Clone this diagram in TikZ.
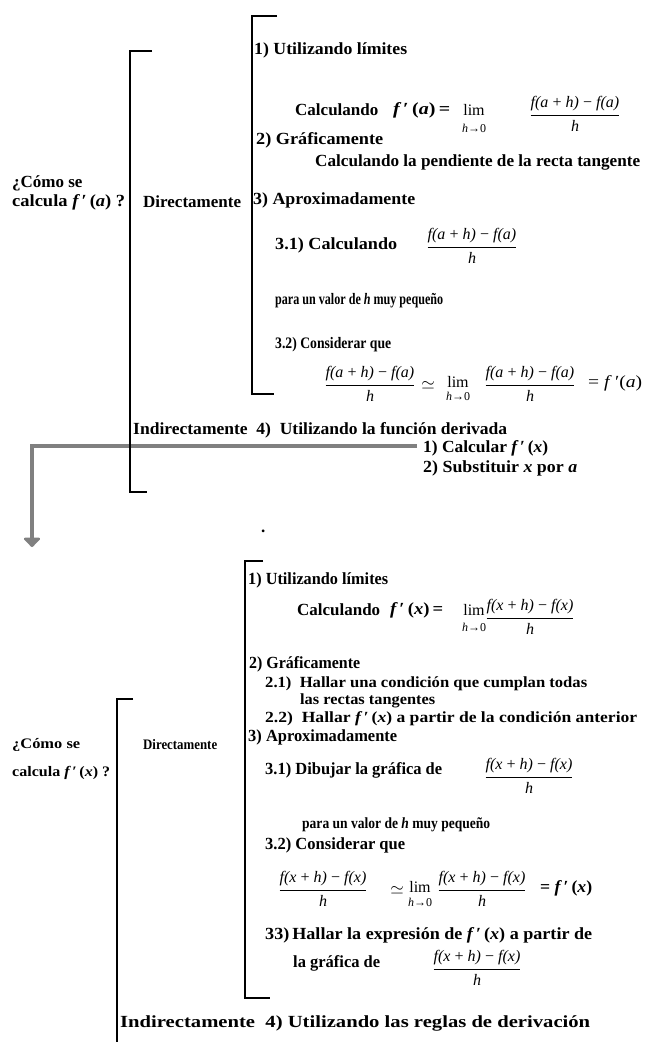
\documentclass[tikz,border=0pt]{standalone}
\usepackage{fontspec}
\setmainfont{Liberation Serif}
\usetikzlibrary{arrows.meta}
\newcommand{\opsp}{\hspace{0.2em}}
\newcommand{\numa}{f(a\opsp+\opsp h)\opsp−\opsp f(a)}
\newcommand{\numx}{f(x\opsp+\opsp h)\opsp−\opsp f(x)}
\newcommand{\fra}[2]{$\displaystyle{\hbox{\normalfont\itshape #1}\above 1.4pt\hbox{\normalfont\itshape #2}}$}
\newcommand{\fpr}[1]{{\itshape f}\,′\,(\textit{#1})}
\newcommand{\fitw}[2]{\resizebox{#1pt}{\height}{#2}}
\tikzset{
  txt/.style={anchor=west, inner sep=0pt, font=\fontsize{17}{20}\selectfont\bfseries},
  txtm/.style={anchor=west, inner sep=0pt, font=\fontsize{15.5}{18}\selectfont\bfseries},
  txts/.style={anchor=west, inner sep=0pt, font=\fontsize{16}{19}\selectfont\bfseries},
  txtc/.style={anchor=west, inner sep=0pt, font=\fontsize{14.5}{17}\selectfont\bfseries},
  frc/.style={inner sep=0pt, font=\fontsize{16}{19}\selectfont},
  limtxt/.style={inner sep=0pt, font=\fontsize{16}{19}\selectfont},
  subl/.style={inner sep=0pt, font=\fontsize{12}{14}\selectfont},
  eqtxt/.style={anchor=west, inner sep=0pt, font=\fontsize{17}{20}\selectfont},
  brk/.style={line width=2pt},
  garrow/.style={line width=4pt, draw=gray, -{Triangle[width=19pt,length=10pt,round]}}
}
\begin{document}
\begin{tikzpicture}[x=1pt,y=-1pt]
\useasboundingbox[fill=white] (0,0) rectangle (649,1042);

% ---------------- TOP PART ----------------
\node[txt] (q1a) at (12,183) {¿Cómo se};
\node[txt] (q1b) at (12,202) {\fitw{113}{calcula\ \fpr{a} ?}};
\node[txt] (dir1) at (143,202) {Directamente};
\node[txt] (t1) at (254,50) {\fitw{153}{1) Utilizando límites}};
\node[txt] (calc1) at (295,110) {Calculando};
\node[txt] (fp1) at (393,110) {\fitw{57}{\fpr{a}\,=}};
\node[limtxt] (lim1) at (474,110) {lim};
\node[subl] (h1) at (474,128) {\textit{h}→0};
\node[frc] (fr1) at (575,114) {\fra{\numa}{h}};
\node[txt] (t2) at (256,140) {\fitw{127}{2) Gráficamente}};
\node[txt] (t2a) at (315,162) {\fitw{325}{Calculando la pendiente de la recta tangente}};
\node[txt] (t3) at (253,200) {\fitw{162}{3) Aproximadamente}};
\node[txt] (t31) at (275,245) {\fitw{122}{3.1) Calculando}};
\node[frc] (fr2) at (472,246) {\fra{\numa}{h}};
\node[txts] (t31b) at (275,301) {\fitw{168}{para un valor de {\itshape h} muy pequeño}};
\node[txts] (t32) at (275,345) {\fitw{116}{3.2) Considerar que}};
\node[frc] (fr3) at (370,384) {\fra{\numa}{h}};
\node[limtxt] (sim1) at (428,385) {$\simeq$};
\node[limtxt] (lim2) at (458,382) {lim};
\node[subl] (h2) at (458,396) {\textit{h}→0};
\node[frc] (fr4) at (530,384) {\fra{\numa}{h}};
\node[eqtxt] (eq1) at (588,383) {\fitw{54}{= \textit{f}\,′(\textit{a})}};
\node[txt] (ind1) at (133,430) {\fitw{374}{Indirectamente\ \ 4)\ \ Utilizando la función derivada}};
\node[txt] (c1) at (423,448) {\fitw{125}{1) Calcular \fpr{x}}};
\node[txt] (c2) at (423,468) {\fitw{154}{2) Substituir {\itshape x} por {\itshape a}}};
\node[txt] (dot) at (261,531) {.};

\coordinate (arrend) at (32,547);
\draw[garrow] (c1.west) ++(-6,-2) coordinate (arrstart) -| (arrend);

% brackets top
\coordinate (A1) at (152,51);
\coordinate (A2) at (130,51);
\coordinate (A3) at (130,492);
\coordinate (A4) at (147,492);
\draw[brk] (A1) -- (A2) -- (A3) -- (A4);
\coordinate (B1) at (277,16);
\coordinate (B2) at (252,16);
\coordinate (B3) at (252,394);
\coordinate (B4) at (274,394);
\draw[brk] (B1) -- (B2) -- (B3) -- (B4);

% ---------------- BOTTOM PART ----------------
\node[txtc] (q2a) at (12,745) {\fitw{68}{¿Cómo se}};
\node[txtc] (q2b) at (12,773) {\fitw{98}{calcula \fpr{x} ?}};
\node[txtc] (dir2) at (143,745) {\fitw{74}{Directamente}};
\node[txt] (b1) at (248,580) {\fitw{140}{1) Utilizando límites}};
\node[txt] (bcalc) at (297,610) {\fitw{83}{Calculando}};
\node[txt] (bfp) at (390,610) {\fitw{53}{\fpr{x}\,=}};
\node[limtxt] (blim1) at (474,610) {lim};
\node[subl] (bh1) at (474,627) {\textit{h}→0};
\node[frc] (bfr1) at (530,617) {\fra{\numx}{h}};
\node[txt] (b2) at (249,664) {\fitw{111}{2) Gráficamente}};
\node[txtm] (b21) at (265,684) {\fitw{322}{2.1)\ \ Hallar una condición que cumplan todas}};
\node[txtm] (b21b) at (300,701) {\fitw{135}{las rectas tangentes}};
\node[txtm] (b22) at (265,719) {\fitw{372}{2.2)\ \ Hallar \fpr{x} a partir de la condición anterior}};
\node[txt] (b3) at (248,737) {\fitw{149}{3) Aproximadamente}};
\node[txt] (b31) at (265,770) {\fitw{177}{3.1) Dibujar la gráfica de}};
\node[frc] (bfr2) at (529,776) {\fra{\numx}{h}};
\node[txtm] (b31b) at (302,825) {\fitw{188}{para un valor de {\itshape h} muy pequeño}};
\node[txt] (b32) at (265,845) {\fitw{140}{3.2) Considerar que}};
\node[frc] (bfr3) at (323,889) {\fra{\numx}{h}};
\node[limtxt] (bsim) at (397,890) {$\simeq$};
\node[limtxt] (blim2) at (420,887) {lim};
\node[subl] (bh2) at (420,902) {\textit{h}→0};
\node[frc] (bfr4) at (482,889) {\fra{\numx}{h}};
\node[txt] (beq) at (540,888) {\fitw{52}{=\ \fpr{x}}};
\node[txt] (b33) at (265,935) {\fitw{327}{33)\,Hallar la expresión de \fpr{x} a partir de}};
\node[txt] (b33b) at (293,963) {\fitw{87}{la gráfica de}};
\node[frc] (bfr5) at (477,968) {\fra{\numx}{h}};
\node[txt] (bind) at (120,1023) {\fitw{470}{Indirectamente\ \ 4) Utilizando las reglas de derivación}};

% brackets bottom
\coordinate (C1) at (263,561);
\coordinate (C2) at (245,561);
\coordinate (C3) at (245,998);
\coordinate (C4) at (270,998);
\draw[brk] (C1) -- (C2) -- (C3) -- (C4);
\coordinate (D1) at (133,699);
\coordinate (D2) at (117,699);
\coordinate (D3) at (117,1043);
\draw[brk] (D1) -- (D2) -- (D3);
\end{tikzpicture}
\end{document}
